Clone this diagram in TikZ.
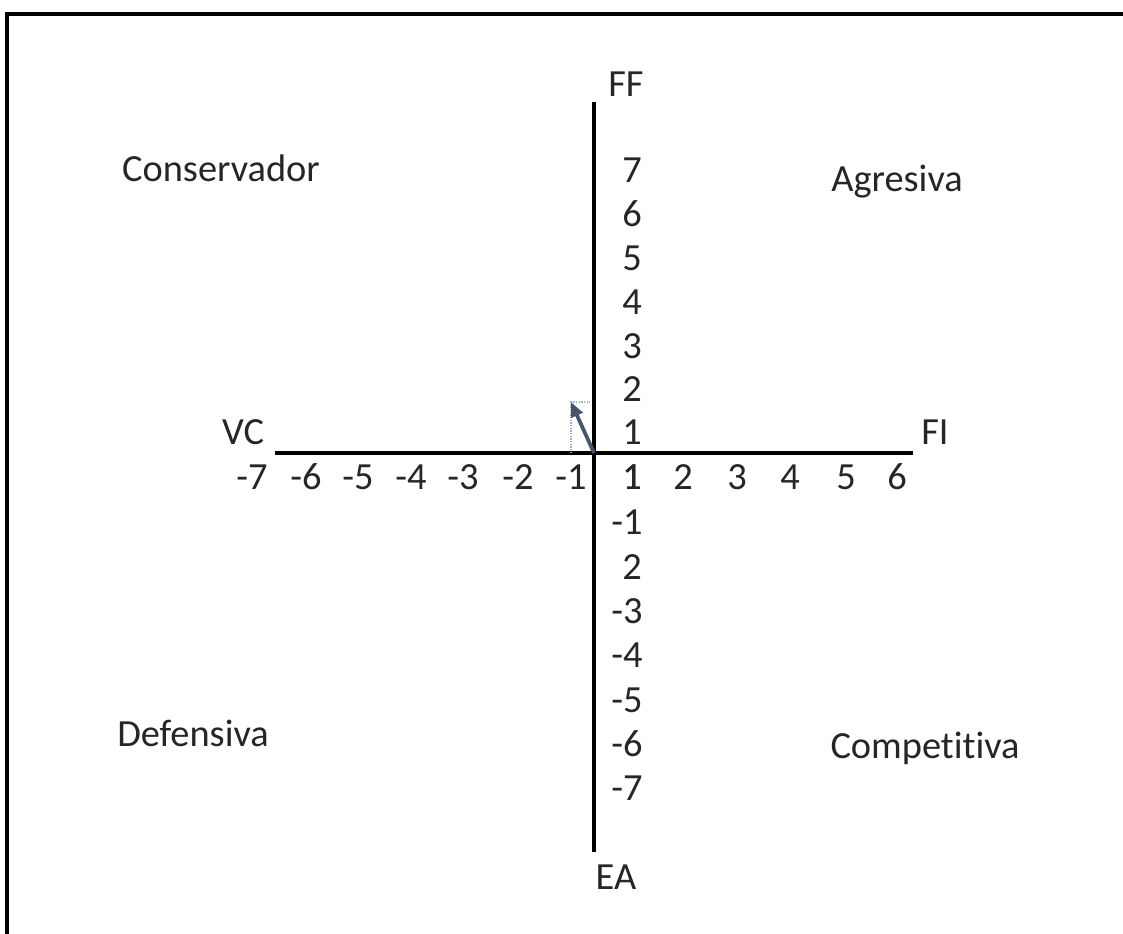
\documentclass[tikz,border=0pt]{standalone}
\usepackage{fontspec}
\setmainfont{Carlito}[Ligatures=NoCommon]
\usetikzlibrary{arrows.meta}
\definecolor{arrowc}{HTML}{44546A}
\definecolor{guidec}{HTML}{9DB0C8}
\begin{document}
\begin{tikzpicture}[x=0.75pt,y=-0.75pt,
  lbl/.style={inner sep=0pt,font=\fontsize{28.8}{30}\selectfont,text=black!85},
  axis/.style={line width=3pt,black},
  vec/.style={line width=2.8pt,arrowc,-{Triangle[length=11pt,width=9pt]}},
  guide/.style={line width=1pt,guidec,densely dotted}]
\useasboundingbox (0,0) rectangle (1123,934);
\fill[white] (0,0) rectangle (1123,934);
% frame (left and top edges)
\draw[line width=3pt] (7,934) -- (7,14) -- (1123,14);
% axes
\coordinate (top) at (594,102);
\coordinate (bot) at (594,852);
\coordinate (left) at (275,453);
\coordinate (right) at (913,453);
\coordinate (o) at (594,453);
\draw[axis] (top) -- (bot);
\draw[axis] (left) -- (right);
% axis names
\node[lbl] (FF) at (626,84) {FF};
\node[lbl] (EA) at (616,877) {EA};
\node[lbl] (VC) at (243,432) {VC};
\node[lbl] (FI) at (935,432) {FI};
% quadrant names
\node[lbl] (cons) at (221,168) {Conservador};
\node[lbl] (agr) at (897,182) {Agresiva};
\node[lbl] (def) at (193,733) {Defensiva};
\node[lbl] (comp) at (925,748) {Competitiva};
% x ticks
\foreach \t/\x in {-7/252,-6/306,-5/358,-4/411,-3/463,-2/518,-1/571,1/632,2/683,3/737,4/790,5/846,6/897}
  \node[lbl] (x\t) at (\x,477) {\t};
% y ticks
\foreach \t/\y in {7/170,6/214,5/258,4/302,3/346,2/389,1/432}
  \node[lbl] (yp\t) at (632,\y) {\t};
\node[lbl] (yn1) at (632,477) {1};
\node[lbl,anchor=west] (ym1) at (611,522) {-1};
\node[lbl] (yn2) at (632,567) {2};
\foreach \t/\y in {3/611,4/655,5/700,6/744,7/788}
  \node[lbl,anchor=west] (ym\t) at (611,\y) {-\t};
% vector
\coordinate (p) at (571,402);
\coordinate (pb) at (571,453);
\coordinate (pr) at (590,402);
\draw[guide] (pb) -- (p) -- (pr);
\draw[vec] (o) -- (p);
\end{tikzpicture}
\end{document}
